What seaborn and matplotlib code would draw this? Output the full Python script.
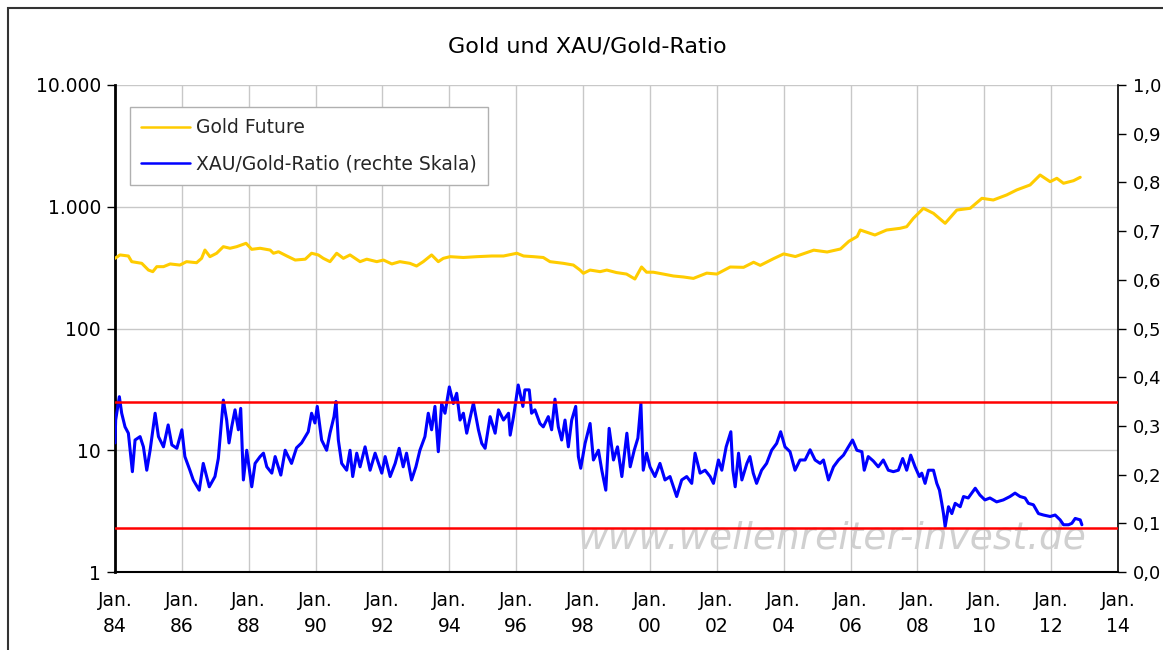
import numpy as np
import pandas as pd
import matplotlib
matplotlib.use("Agg")
import matplotlib.pyplot as plt
import seaborn as sns
from matplotlib.lines import Line2D
from matplotlib.patches import Rectangle
from matplotlib.ticker import NullLocator, FixedLocator, FixedFormatter

# ---------------- data ----------------
gold_years = [1984.00, 1984.15, 1984.40, 1984.50, 1984.80, 1985.00, 1985.13, 1985.25, 1985.45, 1985.65,
              1985.94, 1986.14, 1986.44, 1986.59, 1986.69, 1986.84, 1987.04, 1987.24, 1987.44, 1987.64,
              1987.92, 1988.09, 1988.34, 1988.64, 1988.74, 1988.89, 1989.14, 1989.39, 1989.69, 1989.88,
              1990.08, 1990.23, 1990.43, 1990.63, 1990.83, 1991.03, 1991.33, 1991.53, 1991.83, 1992.03,
              1992.28, 1992.52, 1992.82, 1993.02, 1993.22, 1993.47, 1993.67, 1993.82, 1994.02, 1994.42,
              1994.82, 1995.27, 1995.62, 1996.02, 1996.22, 1996.52, 1996.81, 1997.01, 1997.41, 1997.71,
              1997.91, 1998.01, 1998.21, 1998.51, 1998.71, 1999.00, 1999.30, 1999.55, 1999.75, 1999.90,
              2000.10, 2000.40, 2000.70, 2001.00, 2001.30, 2001.70, 2002.00, 2002.40, 2002.80, 2003.10,
              2003.30, 2003.70, 2004.00, 2004.35, 2004.90, 2005.30, 2005.70, 2005.95, 2006.20, 2006.29,
              2006.73, 2007.08, 2007.48, 2007.68, 2007.88, 2008.18, 2008.48, 2008.83, 2009.18, 2009.58,
              2009.93, 2010.27, 2010.67, 2010.97, 2011.37, 2011.67, 2011.97, 2012.17, 2012.37, 2012.67,
              2012.87]
gold_values = [377, 402, 394, 354, 343, 302, 293, 322, 322, 339,
               332, 354, 347, 377, 441, 389, 415, 470, 456, 470,
               501, 447, 456, 441, 415, 427, 394, 365, 371, 415,
               402, 377, 354, 415, 377, 402, 354, 371, 354, 365,
               339, 354, 343, 326, 354, 402, 354, 377, 389, 383,
               389, 394, 394, 415, 394, 389, 383, 354, 343, 332,
               302, 284, 302, 293, 302, 288, 280, 255, 320, 290,
               290, 280, 270, 265, 258, 285, 280, 320, 318, 350,
               330, 375, 410, 390, 440, 425, 450, 520, 570, 644,
               586, 644, 665, 686, 804, 971, 883, 731, 940, 971,
               1173, 1136, 1250, 1374, 1510, 1823, 1607, 1713, 1559, 1637,
               1746]

ratio_years = [1984.00, 1984.02, 1984.13, 1984.20, 1984.30, 1984.40, 1984.52, 1984.60, 1984.75, 1984.85,
               1984.95, 1985.05, 1985.20, 1985.30, 1985.45, 1985.59, 1985.70, 1985.85, 1986.00, 1986.09,
               1986.24, 1986.34, 1986.52, 1986.64, 1986.82, 1986.99, 1987.09, 1987.24, 1987.34, 1987.41,
               1987.49, 1987.59, 1987.69, 1987.76, 1987.84, 1987.94, 1988.09, 1988.19, 1988.34, 1988.44,
               1988.54, 1988.69, 1988.79, 1988.96, 1989.09, 1989.28, 1989.43, 1989.58, 1989.78, 1989.88,
               1989.98, 1990.05, 1990.18, 1990.33, 1990.43, 1990.55, 1990.61, 1990.68, 1990.78, 1990.93,
               1991.03, 1991.11, 1991.23, 1991.33, 1991.48, 1991.63, 1991.78, 1991.98, 1992.08, 1992.23,
               1992.38, 1992.50, 1992.62, 1992.72, 1992.87, 1993.00, 1993.12, 1993.27, 1993.37, 1993.47,
               1993.57, 1993.67, 1993.77, 1993.87, 1994.00, 1994.12, 1994.22, 1994.32, 1994.42, 1994.52,
               1994.72, 1994.87, 1994.97, 1995.07, 1995.22, 1995.37, 1995.47, 1995.62, 1995.77, 1995.82,
               1995.92, 1996.06, 1996.20, 1996.26, 1996.39, 1996.46, 1996.56, 1996.71, 1996.81, 1996.96,
               1997.06, 1997.16, 1997.26, 1997.36, 1997.46, 1997.56, 1997.66, 1997.78, 1997.86, 1997.93,
               1998.06, 1998.21, 1998.31, 1998.46, 1998.56, 1998.68, 1998.78, 1998.91, 1999.03, 1999.16,
               1999.31, 1999.41, 1999.53, 1999.64, 1999.73, 1999.80, 1999.90, 2000.00, 2000.15, 2000.30,
               2000.45, 2000.60, 2000.80, 2000.95, 2001.10, 2001.25, 2001.35, 2001.50, 2001.65, 2001.80,
               2001.90, 2002.05, 2002.15, 2002.28, 2002.42, 2002.48, 2002.55, 2002.65, 2002.75, 2002.90,
               2002.99, 2003.09, 2003.19, 2003.34, 2003.49, 2003.64, 2003.79, 2003.91, 2004.04, 2004.19,
               2004.34, 2004.49, 2004.64, 2004.79, 2004.94, 2005.09, 2005.19, 2005.34, 2005.49, 2005.64,
               2005.79, 2005.91, 2006.06, 2006.19, 2006.34, 2006.41, 2006.53, 2006.68, 2006.83, 2006.98,
               2007.13, 2007.28, 2007.43, 2007.56, 2007.68, 2007.80, 2007.93, 2008.06, 2008.13, 2008.23,
               2008.33, 2008.48, 2008.58, 2008.66, 2008.73, 2008.78, 2008.83, 2008.93, 2009.03, 2009.13,
               2009.28, 2009.38, 2009.52, 2009.73, 2009.87, 2010.02, 2010.17, 2010.37, 2010.57, 2010.77,
               2010.92, 2011.07, 2011.22, 2011.32, 2011.47, 2011.62, 2011.77, 2011.97, 2012.12, 2012.27,
               2012.37, 2012.52, 2012.62, 2012.72, 2012.87, 2012.92]
ratio_values = [0.265, 0.312, 0.360, 0.326, 0.298, 0.285, 0.206, 0.271, 0.278, 0.257,
                0.209, 0.250, 0.326, 0.278, 0.257, 0.302, 0.261, 0.254, 0.292, 0.237,
                0.209, 0.189, 0.168, 0.223, 0.175, 0.196, 0.233, 0.353, 0.312, 0.265,
                0.298, 0.333, 0.292, 0.336, 0.189, 0.250, 0.175, 0.223, 0.237, 0.244,
                0.216, 0.203, 0.237, 0.199, 0.250, 0.223, 0.255, 0.265, 0.288, 0.326,
                0.306, 0.340, 0.271, 0.250, 0.285, 0.319, 0.350, 0.271, 0.223, 0.209,
                0.250, 0.196, 0.244, 0.216, 0.257, 0.209, 0.244, 0.203, 0.237, 0.196,
                0.223, 0.254, 0.216, 0.244, 0.189, 0.216, 0.250, 0.278, 0.326, 0.292,
                0.340, 0.247, 0.346, 0.326, 0.380, 0.346, 0.367, 0.312, 0.326, 0.285,
                0.347, 0.292, 0.264, 0.254, 0.319, 0.285, 0.333, 0.312, 0.326, 0.281,
                0.319, 0.384, 0.340, 0.374, 0.374, 0.326, 0.333, 0.305, 0.298, 0.319,
                0.292, 0.355, 0.298, 0.271, 0.312, 0.257, 0.312, 0.340, 0.237, 0.213,
                0.264, 0.305, 0.230, 0.250, 0.209, 0.168, 0.295, 0.230, 0.257, 0.196,
                0.285, 0.216, 0.250, 0.275, 0.346, 0.209, 0.244, 0.216, 0.196, 0.223,
                0.189, 0.196, 0.155, 0.189, 0.196, 0.182, 0.244, 0.203, 0.209, 0.196,
                0.182, 0.230, 0.209, 0.257, 0.288, 0.209, 0.175, 0.244, 0.189, 0.223,
                0.237, 0.203, 0.182, 0.209, 0.223, 0.250, 0.264, 0.288, 0.257, 0.247,
                0.209, 0.230, 0.230, 0.251, 0.230, 0.223, 0.230, 0.189, 0.216, 0.230,
                0.240, 0.254, 0.271, 0.250, 0.247, 0.209, 0.237, 0.228, 0.216, 0.230,
                0.209, 0.206, 0.209, 0.233, 0.209, 0.240, 0.216, 0.196, 0.203, 0.182,
                0.209, 0.209, 0.182, 0.168, 0.141, 0.120, 0.093, 0.134, 0.120, 0.141,
                0.134, 0.155, 0.152, 0.172, 0.158, 0.148, 0.152, 0.144, 0.148, 0.155,
                0.162, 0.155, 0.152, 0.141, 0.138, 0.120, 0.117, 0.114, 0.117, 0.107,
                0.097, 0.097, 0.100, 0.110, 0.107, 0.097]

band_upper = 0.35
band_lower = 0.09

x_ticks = list(range(1984, 2015, 2))
x_tick_labels = ["Jan.\n" + f"{y % 100:02d}" for y in x_ticks]
left_ticks = [1, 10, 100, 1000, 10000]
left_tick_labels = ["1", "10", "100", "1.000", "10.000"]
right_ticks = [0.0, 0.1, 0.2, 0.3, 0.4, 0.5, 0.6, 0.7, 0.8, 0.9, 1.0]
right_tick_labels = ["0,0", "0,1", "0,2", "0,3", "0,4", "0,5", "0,6", "0,7", "0,8", "0,9", "1,0"]

title_text = "Gold und XAU/Gold-Ratio"
gold_label = "Gold Future"
ratio_label = "XAU/Gold-Ratio (rechte Skala)"
watermark = "www.wellenreiter-invest.de"

# ---------------- styling ----------------
sns.set_theme(style="white")
plt.rcParams['font.family'] = ['DejaVu Sans']
FS = 13.5
GOLD = "#FFCC00"
BLUE = "#0000FF"

fig = plt.figure(figsize=(11.63, 6.5), dpi=100)
ax = fig.add_axes([115 / 1163, 78 / 650, 1003 / 1163, 487 / 650])
ax.set_yscale("log")
ax.set_xlim(1984, 2014)
ax.set_ylim(1, 10000)

gold_df = pd.DataFrame({"year": gold_years, "value": gold_values})
ratio_df = pd.DataFrame({"year": ratio_years, "value": ratio_values})

sns.lineplot(data=gold_df, x="year", y="value", ax=ax, color=GOLD, lw=2.2,
             estimator=None, legend=False, zorder=3)

ax.yaxis.set_major_locator(FixedLocator(left_ticks))
ax.yaxis.set_major_formatter(FixedFormatter(left_tick_labels))
ax.yaxis.set_minor_locator(NullLocator())
ax.set_xticks(x_ticks)
ax.set_xticklabels(x_tick_labels, linespacing=1.45)
ax.grid(True, which="major", axis="both", color="#c8c8c8", lw=1.0)
ax.set_axisbelow(True)
ax.set_xlabel("")
ax.set_ylabel("")
ax.tick_params(axis="both", direction="out", length=6, width=1, color="black",
               labelsize=FS, labelcolor="black")
ax.tick_params(axis="x", pad=8)
ax.tick_params(axis="y", pad=4)
for s in ["top", "right"]:
    ax.spines[s].set_visible(False)
ax.spines["left"].set_color("black")
ax.spines["left"].set_linewidth(2)
ax.spines["bottom"].set_color("black")
ax.spines["bottom"].set_linewidth(1.5)

ax.text(0.715, 0.068, watermark, transform=ax.transAxes, ha="center", va="center",
        fontsize=27, style="italic", color="#d0d0d0", zorder=1)

ax2 = ax.twinx()
ax2.set_ylim(0, 1)
sns.lineplot(data=ratio_df, x="year", y="value", ax=ax2, color=BLUE, lw=2.2,
             estimator=None, legend=False, zorder=3)
ax2.axhline(band_upper, color="#FF0000", lw=1.8, zorder=4)
ax2.axhline(band_lower, color="#FF0000", lw=1.8, zorder=4)
ax2.set_yticks(right_ticks)
ax2.set_yticklabels(right_tick_labels)
ax2.set_ylabel("")
ax2.grid(False)
ax2.tick_params(axis="y", direction="out", length=6, width=1, color="black",
                labelsize=FS - 0.5, labelcolor="black", pad=5)
for s in ["top", "left", "bottom"]:
    ax2.spines[s].set_visible(False)
ax2.spines["right"].set_color("black")
ax2.spines["right"].set_linewidth(1.2)
ax2.set_xlim(1984, 2014)

handles = [Line2D([], [], color=GOLD, lw=1.8), Line2D([], [], color=BLUE, lw=1.8)]
leg = ax2.legend(handles, [gold_label, ratio_label], loc="upper left",
                 bbox_to_anchor=(0.015, 0.955), borderaxespad=0, fontsize=FS,
                 frameon=True, fancybox=False, framealpha=1, edgecolor="#b0b0b0",
                 handlelength=2.6, handletextpad=0.3, labelspacing=0.95, borderpad=0.6)
leg.get_frame().set_linewidth(1.0)

fig.text(0.505, 1 - 47 / 650, title_text, ha="center", va="center", fontsize=16, color="black")

fig.patches.append(Rectangle((8 / 1163, -0.1), 1.2, 1.1 - 8 / 650,
                             transform=fig.transFigure, fill=False,
                             edgecolor="#333333", lw=1.5))

fig.savefig("out.png", dpi=100)
